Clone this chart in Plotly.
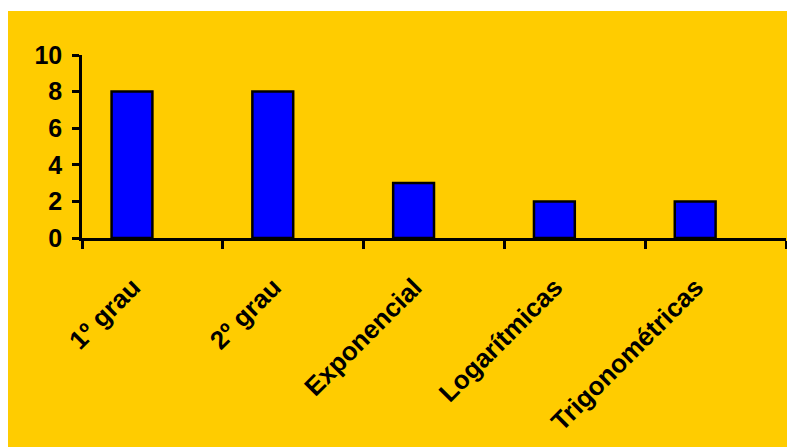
import plotly.graph_objects as go

categories = ["1º grau", "2º grau", "Exponencial", "Logarítmicas", "Trigonométricas"]
values = [8, 8, 3, 2, 2]
y_ticks = [0, 2, 4, 6, 8, 10]

W, H = 795, 447
L, T = 74, 47
pw, ph = 704, 183
R, B = W - L - pw, H - T - ph

idx = list(range(len(categories)))
label_shift = 0.14

fig = go.Figure()
fig.add_trace(go.Bar(
    x=idx, y=values,
    width=0.29, offset=-0.29,
    marker=dict(color="#0000FF", line=dict(color="#000000", width=2.5)),
    hovertext=categories, hoverinfo="text+y",
))

font = "Liberation Sans, Arial, sans-serif"
fig.update_layout(
    width=W, height=H,
    margin=dict(l=L, r=R, t=T, b=B, autoexpand=False),
    paper_bgcolor="#FFFFFF",
    plot_bgcolor="rgba(0,0,0,0)",
    showlegend=False,
    font=dict(family=font, color="#000000"),
    shapes=[dict(
        type="rect", xref="paper", yref="paper", layer="below",
        x0=(0 - L) / pw, x1=(W - L) / pw,
        y0=-(H - (T + ph)) / ph, y1=(T + ph - 3) / ph,
        fillcolor="#FFCC00", line=dict(width=0),
    )],
    xaxis=dict(
        range=[-0.5, len(categories) - 0.5],
        tickvals=[i - label_shift for i in idx], ticktext=categories,
        showline=True, linecolor="#000000", linewidth=2.5,
        ticks="outside", ticklen=0, tickwidth=2, tickcolor="#000000",
        minor=dict(
            tickvals=[i - 0.5 for i in range(len(categories) + 1)],
            ticks="outside", ticklen=8, tickwidth=2.5, tickcolor="#000000",
            showgrid=False,
        ),
        tickangle=-45, showgrid=False, zeroline=False,
        tickfont=dict(family=font, size=26, color="#000000", weight="bold"),
        ticklabelstandoff=21,
    ),
    yaxis=dict(
        range=[0, 10], tickvals=y_ticks, ticktext=[str(v) for v in y_ticks],
        showline=True, linecolor="#000000", linewidth=2.5,
        ticks="outside", ticklen=7, tickwidth=2.5, tickcolor="#000000",
        showgrid=False, zeroline=False,
        tickfont=dict(family=font, size=25, color="#000000", weight="bold"),
        ticklabelstandoff=5,
    ),
)

fig.write_html("out.html")
